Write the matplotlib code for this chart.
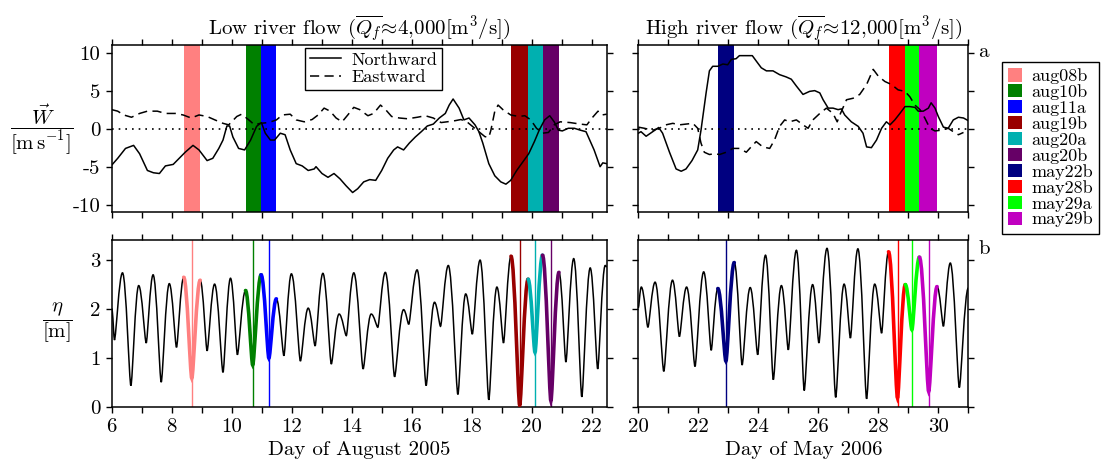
import matplotlib
matplotlib.use("Agg")
import matplotlib.pyplot as plt
from matplotlib.patches import Patch, PathPatch
from matplotlib.path import Path
from matplotlib.ticker import MultipleLocator
import numpy as np

plt.rcParams.update({
    "font.family": "serif",
    "font.serif": ["cmr10"],
    "mathtext.fontset": "cm",
    "axes.unicode_minus": False,
    "font.size": 15,
})

# experiments (start / low tide / end, in days of the month)
exp_names = ["aug08b", "aug10b", "aug11a", "aug19b", "aug20a", "aug20b",
             "may22b", "may28b", "may29a", "may29b"]
exp_colors = ["#FF8080", "#008000", "#0000FF", "#990000", "#00B0B0", "#660066",
              "#000080", "#FF0000", "#00FF00", "#C000C0"]
exp_start = [8.40, 10.46, 10.98, 19.31, 19.88, 20.36, 22.65, 28.34, 28.90, 29.37]
exp_low = [8.67, 10.70, 11.24, 19.60, 20.11, 20.64, 22.92, 28.64, 29.12, 29.68]
exp_end = [8.95, 10.98, 11.49, 19.88, 20.36, 20.91, 23.20, 28.90, 29.37, 29.96]

# August 2005 wind [m/s]
aug_north_t = [6.00, 6.20, 6.46, 6.73, 6.93, 7.19, 7.39, 7.59, 7.79, 8.05, 8.25, 8.45, 8.71, 8.91,
               9.18, 9.37, 9.57, 9.71, 9.84, 9.93, 10.04, 10.23, 10.43, 10.63, 10.83, 10.99, 11.12,
               11.29, 11.43, 11.62, 11.78, 11.95, 12.15, 12.35, 12.55, 12.75, 12.81, 13.01, 13.21,
               13.41, 13.61, 13.81, 14.03, 14.20, 14.40, 14.60, 14.80, 15.00, 15.20, 15.40, 15.53,
               15.73, 15.92, 16.12, 16.32, 16.52, 16.72, 16.92, 17.12, 17.25, 17.38, 17.58, 17.74,
               17.91, 18.11, 18.24, 18.37, 18.57, 18.77, 18.97, 19.14, 19.30, 19.50, 19.70, 19.90,
               20.09, 20.25, 20.43, 20.60, 20.75, 20.89, 21.02, 21.22, 21.42, 21.62, 21.81, 22.08,
               22.28, 22.37, 22.50]
aug_north = [-4.8, -3.9, -2.6, -2.2, -3.3, -5.5, -5.8, -5.9, -4.9, -4.7, -3.9, -3.1, -2.2, -2.8,
             -4.2, -3.9, -2.6, -1.5, 0.35, 0.35, -1.1, -2.6, -2.8, -1.5, 0.3, 0.8, -0.6,
             -1.5, -1.5, -0.6, -0.8, -2.8, -4.6, -4.9, -5.5, -5.3, -5.0, -5.9, -6.4,
             -5.9, -6.6, -7.5, -8.4, -7.9, -7.0, -6.7, -6.8, -5.5, -3.9, -2.8, -2.4,
             -2.8, -1.9, -1.1, -0.4, 0.35, 0.6, 1.4, 2.0, 3.1, 3.9, 2.7, 1.15,
             1.4, 0.5, -0.4, -1.9, -4.6, -6.2, -7.0, -7.3, -6.8, -5.5, -4.4, -3.3,
             -1.7, -0.2, 1.15, 1.7, 0.9, -0.2, -0.3, 0.05, 0.05, -0.2, -0.4, -2.8,
             -5.0, -4.5, -4.6]
aug_east_t = [6.00, 6.20, 6.40, 6.66, 6.93, 7.19, 7.52, 7.79, 8.12, 8.38, 8.65, 8.91, 9.18, 9.44,
              9.71, 9.90, 10.17, 10.33, 10.57, 10.76, 10.96, 11.23, 11.49, 11.69, 11.95, 12.15,
              12.42, 12.68, 12.88, 13.08, 13.28, 13.48, 13.68, 13.87, 14.07, 14.27, 14.54, 14.73,
              14.96, 15.13, 15.33, 15.59, 15.86, 16.19, 16.45, 16.72, 16.98, 17.18, 17.45, 17.64,
              17.84, 18.04, 18.24, 18.44, 18.57, 18.64, 18.77, 18.88, 19.04, 19.30, 19.57, 19.77,
              19.97, 20.16, 20.36, 20.56, 20.75, 20.95, 21.28, 21.62, 21.84, 22.01, 22.21, 22.34,
              22.50]
aug_east = [2.5, 2.3, 1.8, 1.5, 2.0, 2.3, 2.3, 2.0, 2.0, 1.8, 1.4, 1.8, 1.6, 1.15,
            0.7, 0.5, 1.6, 1.9, 1.15, 0.5, 0.7, 0.8, 1.15, 1.8, 1.9, 1.15,
            0.9, 1.2, 1.8, 2.7, 2.3, 1.4, 0.9, 1.8, 2.8, 2.5, 1.7, 2.0,
            3.1, 2.5, 1.6, 1.4, 1.3, 1.5, 1.7, 1.4, 0.8, 0.9, 1.05, 1.2,
            0.9, 0.25, -0.4, -1.05, -1.15, -0.2, 2.3, 3.1, 2.5, 1.8, 1.6, 1.7,
            1.15, 0.05, -0.6, -0.5, 0.5, 0.9, 0.8, 0.6, 0.5, 1.4, 2.3, 1.8,
            1.9]

# May 2006 wind [m/s]
may_north_t = [20.00, 20.09, 20.26, 20.48, 20.68, 20.81, 21.04, 21.26, 21.43, 21.59, 21.79, 21.98,
               22.09, 22.26, 22.37, 22.48, 22.65, 22.82, 22.98, 23.10, 23.26, 23.37, 23.60, 23.80,
               23.93, 24.10, 24.27, 24.49, 24.71, 24.93, 25.10, 25.27, 25.49, 25.71, 25.88, 26.05,
               26.16, 26.33, 26.49, 26.66, 26.77, 26.88, 27.10, 27.33, 27.49, 27.61, 27.77, 27.94,
               28.11, 28.27, 28.39, 28.55, 28.72, 28.89, 29.05, 29.22, 29.33, 29.50, 29.67, 29.76,
               29.89, 30.00, 30.17, 30.33, 30.50, 30.67, 30.84, 31.00]
may_north = [-0.6, -0.4, -1.0, -0.4, 0.15, -0.6, -3.1, -5.3, -5.6, -5.3, -4.2, -2.8,
             -0.2, 4.7, 7.6, 8.2, 8.2, 8.5, 8.4, 9.1, 9.2, 9.6, 9.6, 9.6,
             8.9, 8.0, 7.6, 7.6, 7.1, 6.8, 6.5, 5.6, 4.5, 4.9, 5.0, 4.7,
             3.8, 2.7, 2.7, 2.5, 2.6, 1.8, 0.9, 0.3, -0.6, -2.4, -2.5, -1.5,
             0.05, 0.9, 0.5, 1.15, 2.0, 2.9, 2.9, 2.8, 2.3, 2.3, 2.7, 3.4,
             2.7, 1.6, 0.2, 0.05, 1.15, 1.5, 1.4, 1.05]
may_east_t = [20.00, 20.20, 20.48, 20.70, 20.92, 21.15, 21.37, 21.59, 21.82, 21.98, 22.09, 22.20,
              22.37, 22.54, 22.71, 22.93, 23.15, 23.37, 23.60, 23.76, 23.93, 24.15, 24.38, 24.54,
              24.71, 24.88, 25.04, 25.27, 25.49, 25.66, 25.82, 26.05, 26.27, 26.49, 26.63, 26.74,
              26.94, 27.16, 27.38, 27.61, 27.83, 28.00, 28.22, 28.44, 28.66, 28.89, 29.05, 29.22,
              29.39, 29.55, 29.72, 29.89, 30.11, 30.33, 30.50, 30.67, 30.84]
may_east = [0.2, 0.05, -0.2, 0.05, 0.5, 0.7, 0.5, 0.6, 0.7, 0.05, -1.9, -3.1,
            -3.4, -3.3, -3.4, -3.1, -2.6, -2.6, -3.1, -2.4, -1.7, -2.4, -2.6, -1.5,
            0.3, 1.15, 0.9, 1.15, 0.5, 0.05, 1.15, 2.0, 2.7, 2.0, 0.9, 2.0,
            3.8, 4.0, 4.5, 5.8, 7.8, 6.9, 6.2, 5.8, 5.1, 4.9, 4.2, 3.1,
            2.5, 1.4, 0.05, -0.3, -0.2, 0.05, -0.4, -0.8, -0.5]

# surface elevation [m], high/low water turning points
aug_eta_t = [6.00, 6.09, 6.36, 6.64, 6.90, 7.15, 7.38, 7.65, 7.92, 8.16, 8.40, 8.67, 8.95, 9.18,
             9.43, 9.71, 9.96, 10.19, 10.46, 10.70, 10.98, 11.24, 11.49, 11.74, 11.99, 12.29,
             12.55, 12.78, 13.04, 13.32, 13.58, 13.82, 14.07, 14.38, 14.65, 14.87, 15.12, 15.43,
             15.73, 15.90, 16.18, 16.48, 16.76, 16.96, 17.22, 17.54, 17.80, 18.02, 18.28, 18.57,
             18.84, 19.06, 19.31, 19.60, 19.88, 20.11, 20.36, 20.64, 20.91, 21.14, 21.40, 21.67,
             21.95, 22.20, 22.45, 22.50]
aug_eta = [2.00, 1.36, 2.73, 0.43, 2.47, 1.30, 2.69, 0.50, 2.51, 1.21, 2.64, 0.58, 2.58, 1.14,
           2.50, 0.70, 2.62, 1.06, 2.37, 0.85, 2.69, 0.99, 2.20, 1.04, 2.71, 0.93,
           2.01, 1.24, 2.72, 0.87, 1.89, 1.45, 2.73, 0.77, 1.89, 1.62, 2.74, 0.61,
           1.98, 1.68, 2.79, 0.43, 2.13, 1.64, 2.88, 0.25, 2.30, 1.48, 2.99, 0.14,
           2.44, 1.30, 3.07, 0.03, 2.60, 1.11, 3.09, 0.12, 2.74, 0.91, 3.02, 0.20,
           2.83, 0.77, 2.88, 2.85]
may_eta_t = [20.00, 20.10, 20.32, 20.56, 20.85, 21.14, 21.37, 21.61, 21.89, 22.18, 22.43, 22.65,
             22.92, 23.20, 23.46, 23.73, 23.98, 24.24, 24.50, 24.77, 25.00, 25.27, 25.53, 25.81,
             26.02, 26.29, 26.58, 26.86, 27.07, 27.32, 27.61, 27.88, 28.11, 28.34, 28.64, 28.90,
             29.12, 29.37, 29.68, 29.96, 30.17, 30.40, 30.70, 31.00]
may_eta = [2.01, 2.44, 1.62, 2.54, 0.72, 2.58, 1.43, 2.44, 0.82, 2.75, 1.15, 2.41,
           0.93, 2.94, 0.85, 2.43, 1.06, 3.09, 0.55, 2.47, 1.16, 3.19, 0.33, 2.49,
           1.30, 3.23, 0.19, 2.50, 1.40, 3.22, 0.16, 2.50, 1.50, 3.16, 0.18, 2.49,
           1.57, 3.05, 0.31, 2.45, 1.64, 2.93, 0.39, 2.42]

W, H = 1104, 465
fig = plt.figure(figsize=(W / 100, H / 100), dpi=100)


def px_axes(x0, y0, x1, y1):
    return fig.add_axes([x0 / W, 1 - y1 / H, (x1 - x0) / W, (y1 - y0) / H])


def tide_path(t, v):
    # bezier through the turning points, flat at each high/low water,
    # rounder at high water and sharper at low water
    verts = [(t[0], v[0])]
    codes = [Path.MOVETO]
    for i in range(len(t) - 1):
        dt = t[i + 1] - t[i]
        k0 = 0.42 if v[i] > v[i + 1] else 0.2
        k1 = 0.42 if v[i + 1] > v[i] else 0.2
        verts += [(t[i] + k0 * dt, v[i]), (t[i + 1] - k1 * dt, v[i + 1]), (t[i + 1], v[i + 1])]
        codes += [Path.CURVE4] * 3
    return Path(verts, codes)


ax_wl = px_axes(111.7, 45, 606.7, 212.3)
ax_wr = px_axes(638.3, 45, 968.3, 212.3)
ax_el = px_axes(111.7, 240, 606.7, 406.7)
ax_er = px_axes(638.3, 240, 968.3, 406.7)


def style(ax):
    for s in ax.spines.values():
        s.set_linewidth(1.1)
    ax.tick_params(which="both", direction="out", top=True, right=True,
                   length=4.5, width=1.0, labelsize=15)
    ax.xaxis.set_major_locator(MultipleLocator(2))
    ax.xaxis.set_minor_locator(MultipleLocator(1))


panels = [
    (ax_wl, ax_el, "aug", (6, 22.5), aug_north_t, aug_north, aug_east_t, aug_east, aug_eta_t, aug_eta),
    (ax_wr, ax_er, "may", (20, 31), may_north_t, may_north, may_east_t, may_east, may_eta_t, may_eta),
]

for axw, axe, tag, xl, nt, nv, et, ev, ht, hv in panels:
    ht = np.array(ht)
    hv = np.array(hv)
    for name, c, s, lo, e in zip(exp_names, exp_colors, exp_start, exp_low, exp_end):
        if not name.startswith(tag):
            continue
        axw.axvspan(s, e, color=c, lw=0, zorder=1)
        axe.axvline(lo, color=c, lw=1.0, zorder=1)
    axw.axhline(0, color="k", ls=(0, (1, 3)), lw=1.2, zorder=2)
    axw.plot(nt, nv, color="k", lw=1.1, zorder=3, label="Northward")
    axw.plot(et, ev, color="k", lw=1.1, dashes=(6, 3.5), zorder=3, label="Eastward")
    axe.add_patch(PathPatch(tide_path(ht, hv), fill=False, edgecolor="k", lw=1.1, zorder=2))
    for name, c, s, e in zip(exp_names, exp_colors, exp_start, exp_end):
        if not name.startswith(tag):
            continue
        m = (ht >= s - 1e-6) & (ht <= e + 1e-6)
        axe.add_patch(PathPatch(tide_path(ht[m], hv[m]), fill=False, edgecolor=c, lw=2.6,
                                capstyle="round", zorder=3))
    for ax in (axw, axe):
        style(ax)
        ax.set_xlim(*xl)
    axw.set_ylim(-11, 11)
    axw.set_yticks([-10, -5, 0, 5, 10])
    axe.set_ylim(0, 3.4)
    axe.set_yticks([0, 1, 2, 3])
    axw.tick_params(labelbottom=False)

ax_wr.tick_params(labelleft=False)
ax_er.tick_params(labelleft=False)

ax_wl.set_title(r"Low river flow ($\overline{Q_f}\!\approx\!4{,}000[\mathrm{m}^3/\mathrm{s}]$)",
                fontsize=15, pad=7)
ax_wr.set_title(r"High river flow ($\overline{Q_f}\!\approx\!12{,}000[\mathrm{m}^3/\mathrm{s}]$)",
                fontsize=15, pad=7)
ax_el.set_xlabel("Day of August 2005", fontsize=15, labelpad=4)
ax_er.set_xlabel("Day of May 2006", fontsize=15, labelpad=4)

fig.text(0.066, 1 - 128.6 / H, r"$\dfrac{\vec{W}}{[\mathrm{m\,s^{-1}}]}$",
         ha="right", va="center", fontsize=15)
fig.text(0.066, 1 - 323.3 / H, r"$\dfrac{\eta}{[\mathrm{m}]}$",
         ha="right", va="center", fontsize=15)

ax_wr.text(1.03, 1.01, "a", transform=ax_wr.transAxes, ha="left", va="top", fontsize=15)
ax_er.text(1.03, 1.0, "b", transform=ax_er.transAxes, ha="left", va="top", fontsize=15)

leg = ax_wl.legend(loc="upper center", bbox_to_anchor=(0.529, 0.985), borderaxespad=0,
                   fontsize=13, handlelength=1.7, handletextpad=0.6, frameon=True, fancybox=False,
                   edgecolor="k", framealpha=1, borderpad=0.25, labelspacing=0.1)
leg.get_frame().set_linewidth(1.0)

handles = [Patch(facecolor=c, edgecolor="none", label=n) for n, c in zip(exp_names, exp_colors)]
leg2 = fig.legend(handles=handles, loc="upper right", bbox_to_anchor=(1099 / W, 1 - 62 / H),
                  borderaxespad=0, fontsize=13, handlelength=0.75, handleheight=0.75,
                  handletextpad=0.5, labelspacing=0.0, fancybox=False, edgecolor="k",
                  framealpha=1, borderpad=0.35)
leg2.get_frame().set_linewidth(1.0)

fig.savefig("out.png", dpi=100)
